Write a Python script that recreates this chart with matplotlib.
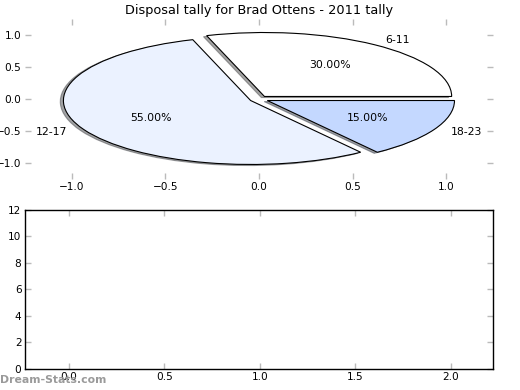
import matplotlib
matplotlib.use("Agg")
import matplotlib.pyplot as plt

labels = ["6-11", "12-17", "18-23"]
shares = [30, 55, 15]
colors = ["#FFFFFF", "#EBF2FF", "#C4D8FF"]
explode = [0.05, 0.05, 0.05]
title = "Disposal tally for Brad Ottens - 2011 tally"
pie_ticks = [-1.0, -0.5, 0.0, 0.5, 1.0]
bar_yticks = [0, 2, 4, 6, 8, 10, 12]
bar_xticks = [0.0, 0.5, 1.0, 1.5, 2.0]

fig = plt.figure(figsize=(5.2, 3.9), dpi=100)
ax1 = fig.add_axes([0.048, 0.541, 0.900, 0.410])
ax2 = fig.add_axes([0.048, 0.054, 0.900, 0.408])

wedges, texts, autotexts = ax1.pie(
    shares, labels=labels, colors=colors, explode=explode,
    autopct="%1.2f%%", shadow={"ox": -0.012, "oy": -0.012},
    startangle=0, frame=True,
    labeldistance=1.1, pctdistance=0.6,
    wedgeprops=dict(edgecolor="black", linewidth=0.8),
    textprops=dict(fontsize=7.8))
ax1.set_aspect("auto")
ax1.set_xlim(-1.25, 1.25)
ax1.set_ylim(-1.25, 1.25)
ax1.set_xticks(pie_ticks)
ax1.set_yticks(pie_ticks)
for s in ax1.spines.values():
    s.set_visible(False)
ax1.set_title(title, fontsize=9.3, pad=4)

ax2.set_xlim(-0.23, 2.22)
ax2.set_ylim(0, 12)
ax2.set_yticks(bar_yticks)
ax2.set_xticks(bar_xticks)
for s in ax2.spines.values():
    s.set_linewidth(1.0)

for ax in (ax1, ax2):
    ax.tick_params(direction="in", top=True, right=True, length=4,
                   width=1, color="#BBBBBB", labelsize=7.6, pad=2.5)

fig.text(0.0, 0.026, "Dream-Stats.com", fontsize=7.8, weight="bold",
         color="#9A9A9A", ha="left", va="center")

fig.savefig("out.png", dpi=100)
